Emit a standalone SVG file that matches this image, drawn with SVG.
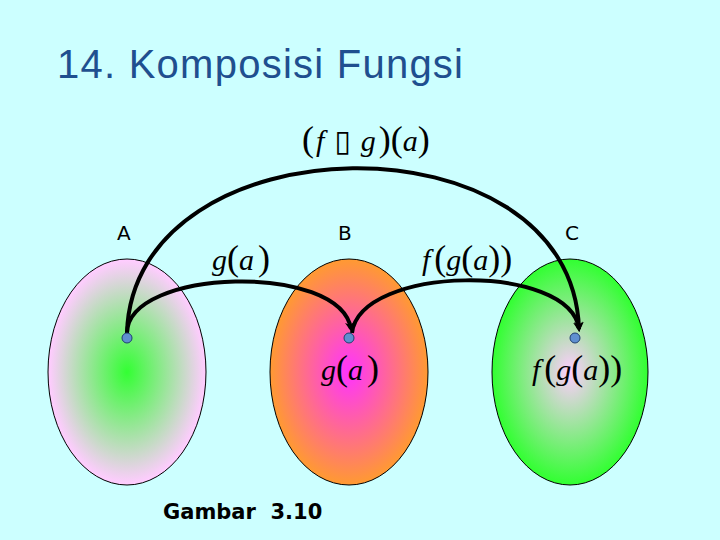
<svg xmlns="http://www.w3.org/2000/svg" width="720" height="540" viewBox="0 0 720 540">
<defs>
<radialGradient id="gA" cx="0.5" cy="0.5" r="0.55"><stop offset="0" stop-color="#33ff33"/><stop offset="0.9" stop-color="#ffccff"/></radialGradient>
<radialGradient id="gB" cx="0.5" cy="0.5" r="0.55"><stop offset="0" stop-color="#ff33ff"/><stop offset="0.9" stop-color="#ff9933"/></radialGradient>
<radialGradient id="gC" cx="0.5" cy="0.5" r="0.55"><stop offset="0" stop-color="#ffccff"/><stop offset="0.9" stop-color="#33ff33"/></radialGradient>
<marker id="arr" markerWidth="10" markerHeight="10" refX="7" refY="5" orient="auto" markerUnits="userSpaceOnUse"><path d="M0,0 L10,5 L0,10 L3,5 Z" fill="#000"/></marker>
<style>
.set{stroke:#000;stroke-width:1}
.lbl{font-family:"DejaVu Sans","Liberation Sans",sans-serif;font-size:20px;fill:#000}
.m{font-family:"Liberation Serif",serif;font-size:30px;fill:#000}
.mi{font-style:italic}
.p{font-size:36px}
.arc{fill:none;stroke:#000;stroke-width:4;marker-end:url(#arr)}
.dot{fill:#5f8fd0;stroke:#1f3f6f;stroke-width:1}
</style>
</defs>
<rect width="720" height="540" fill="#ccffff"/>
<text x="57" y="78" font-family="'Liberation Sans',sans-serif" font-size="40" fill="#1f4f8f" textLength="406">14. Komposisi Fungsi</text>
<g id="setA"><ellipse class="set" cx="127" cy="372" rx="79" ry="113" fill="url(#gA)"/><text class="lbl" x="117" y="240">A</text></g>
<g id="setB"><ellipse class="set" cx="349" cy="372" rx="79" ry="113" fill="url(#gB)"/><text class="lbl" x="338" y="240">B</text></g>
<g id="setC"><ellipse class="set" cx="570" cy="372" rx="78" ry="113" fill="url(#gC)"/><text class="lbl" x="565" y="240">C</text></g>
<g id="connectors">
<path class="arc" d="M127,333 C133,118 572,110 579,329"/>
<path class="arc" d="M127,333 C128,268 340,262 351,329"/>
<path class="arc" d="M352,333 C360,265 570,262 579,329"/>
</g>
<g id="dots">
<circle class="dot" cx="127" cy="338" r="5"/>
<circle class="dot" cx="349" cy="338" r="5"/>
<circle class="dot" cx="575" cy="338" r="5"/>
</g>
<g id="math">
<text class="m" x="302" y="151"><tspan class="p">(</tspan><tspan class="mi" dx="2">f</tspan><tspan font-family="'DejaVu Sans',sans-serif" font-size="30" dx="10">▯</tspan><tspan class="mi" dx="10">g</tspan><tspan class="p" dx="3">)(</tspan><tspan class="mi">a</tspan><tspan class="p">)</tspan></text>
<text class="m" x="212" y="270"><tspan class="mi">g</tspan><tspan class="p">(</tspan><tspan class="mi">a</tspan><tspan class="p" dx="4">)</tspan></text>
<text class="m" x="422" y="270"><tspan class="mi">f</tspan><tspan class="p" dx="4">(</tspan><tspan class="mi">g</tspan><tspan class="p">(</tspan><tspan class="mi">a</tspan><tspan class="p">))</tspan></text>
<text class="m" x="321" y="380"><tspan class="mi">g</tspan><tspan class="p">(</tspan><tspan class="mi">a</tspan><tspan class="p" dx="4">)</tspan></text>
<text class="m" x="532" y="380"><tspan class="mi">f</tspan><tspan class="p" dx="4">(</tspan><tspan class="mi">g</tspan><tspan class="p">(</tspan><tspan class="mi">a</tspan><tspan class="p">))</tspan></text>
</g>
<text x="163" y="519" font-family="'DejaVu Sans',sans-serif" font-weight="bold" font-size="21" fill="#000" style="white-space:pre">Gambar  3.10</text>
</svg>
